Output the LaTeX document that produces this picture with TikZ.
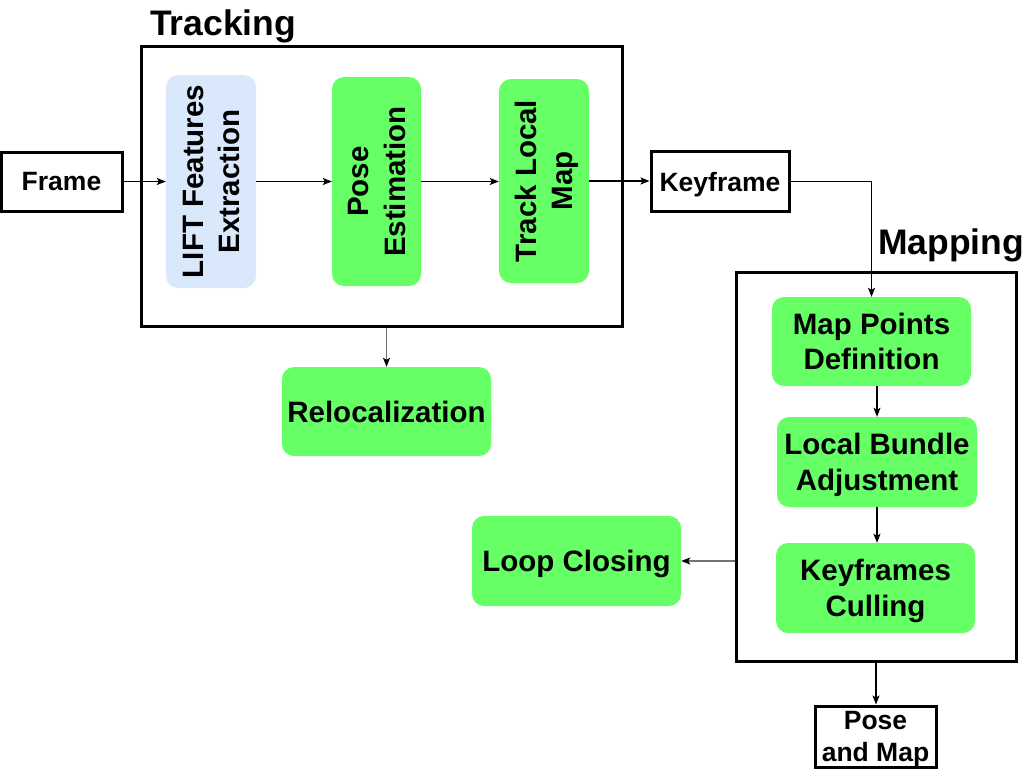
\documentclass[tikz,border=0pt]{standalone}
\usepackage{fontspec}
\setmainfont{Liberation Sans}
\usetikzlibrary{arrows.meta,calc}
\definecolor{boxgreen}{HTML}{66FF66}
\definecolor{boxblue}{HTML}{DAE8FC}
\newcommand{\vtext}[2]{\hspace*{6pt}\rotatebox{90}{\begin{tabular}{@{}c@{}}#1\\#2\end{tabular}}}
\begin{document}
\begin{tikzpicture}[x=1pt,y=-1pt,
  stepbox/.style={fill=boxgreen, draw=none, rounded corners=12pt, inner sep=0pt, align=center,
    text depth=0pt, font={\bfseries\fontsize{29.5}{35.4}\selectfont}},
  plainbox/.style={draw=black, line width=3pt, fill=white, inner sep=0pt, align=center,
    text depth=0pt, font={\bfseries\fontsize{26.5}{31.5}\selectfont}},
  vertbox/.style={fill=boxgreen, draw=none, rounded corners=12pt, inner sep=0pt,
    font={\bfseries\fontsize{29.5}{36.5}\selectfont}},
  groupbox/.style={draw=black, line width=3pt, inner sep=0pt},
  title/.style={font={\bfseries\fontsize{35.5}{40}\selectfont}, inner sep=0pt, anchor=base west},
  conn/.style={draw=black, line width=1.2pt, -{Stealth[length=9pt,width=7pt,inset=2pt]}},
  grayconn/.style={draw=black!55, line width=1.6pt, -{Stealth[length=9pt,width=7pt,inset=2pt,black]}}
]
\useasboundingbox (0,0) rectangle (1033,769);

% group boxes
\node[groupbox, minimum width=481pt, minimum height=280pt] (tracking) at (381.5,186) {};
\node[groupbox, minimum width=280pt, minimum height=389pt] (mapping) at (876,466.5) {};
\node[title] (trackingtitle) at (150,35) {Tracking};
\node[title] (mappingtitle) at (878,254) {Mapping};

% plain boxes
\node[plainbox, minimum width=121pt, minimum height=59pt] (frame) at (61.5,181.5) {Frame};
\node[plainbox, minimum width=138pt, minimum height=60pt] (keyframe) at (720,181.5) {Keyframe};
\node[plainbox, minimum width=121pt, minimum height=61pt] (posemap) at (875.5,736.5) {Pose\\and Map};

% tracking steps (vertical text)
\node[vertbox, fill=boxblue, minimum width=90pt, minimum height=213pt] (lift) at (211,181.5)
  {\vtext{LIFT Features}{Extraction}};
\node[vertbox, minimum width=89pt, minimum height=209pt] (pose) at (376.5,181.5)
  {\vtext{Pose}{Estimation}};
\node[vertbox, minimum width=90pt, minimum height=204pt] (track) at (544,181)
  {\vtext{Track Local}{Map}};

% other steps
\node[stepbox, minimum width=209pt, minimum height=89pt] (reloc) at (386.5,411.5) {Relocalization};
\node[stepbox, minimum width=199pt, minimum height=89pt] (mappoints) at (871.5,341.5) {Map Points\\Definition};
\node[stepbox, minimum width=200pt, minimum height=90pt] (bundle) at (877,462) {Local Bundle\\Adjustment};
\node[stepbox, minimum width=199pt, minimum height=90pt] (culling) at (875.5,588) {Keyframes\\Culling};
\node[stepbox, minimum width=209pt, minimum height=90pt] (loop) at (576.5,561) {Loop Closing};

% connectors
\draw[conn] (frame.east) -- (frame.east -| lift.west);
\draw[conn] (lift.east) -- (lift.east -| pose.west);
\draw[conn] (pose.east) -- (pose.east -| track.west);
\draw[conn] (track.east) -- (track.east -| keyframe.west);
\draw[conn] (keyframe.east) -| (mappoints.north);
\draw[conn] (bundle.north |- mappoints.south) -- (bundle.north);
\draw[conn] (bundle.south) -- (bundle.south |- culling.north);
\draw[conn] (mapping.south) -- (mapping.south |- posemap.north);
\draw[grayconn] (loop.east -| mapping.west) -- (loop.east);
\draw[grayconn] (reloc.north |- tracking.south) -- (reloc.north);
\end{tikzpicture}
\end{document}
